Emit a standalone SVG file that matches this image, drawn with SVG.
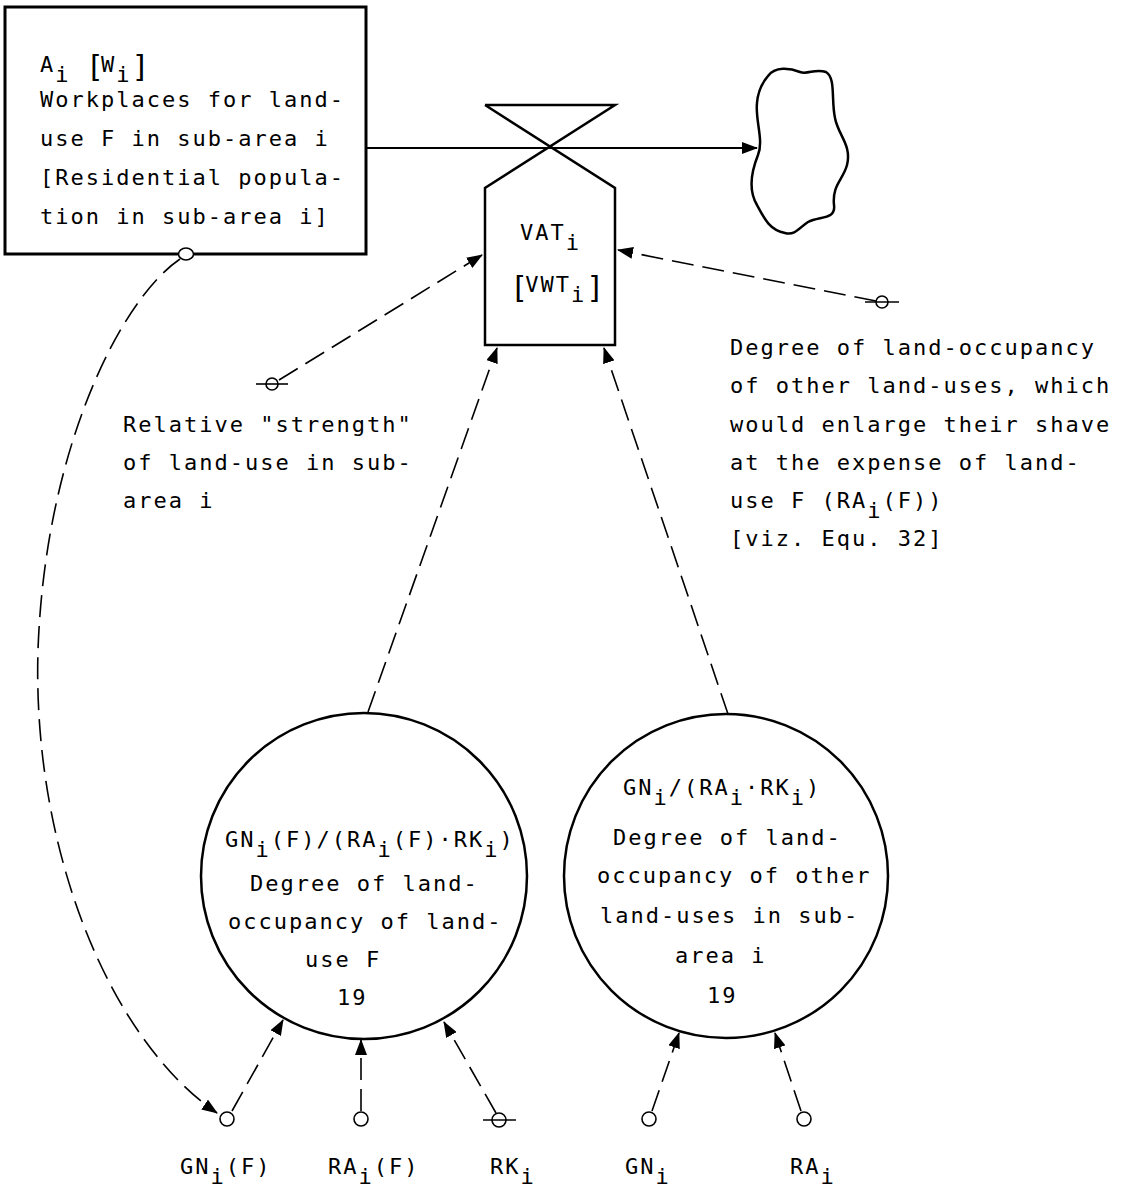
<svg xmlns="http://www.w3.org/2000/svg" width="1123" height="1191" viewBox="0 0 1123 1191">
  <style>
    text { font-family: "DejaVu Sans Mono", "Liberation Mono", monospace; font-size: 22px; letter-spacing: 2px; fill: #000; white-space: pre; }
    .br { font-size: 30px; letter-spacing: -2.8px; font-weight: 300; }
    .solid { fill: none; stroke: #000; stroke-width: 2.5; }
    .flow { fill: none; stroke: #000; stroke-width: 2; }
    .dash { fill: none; stroke: #000; stroke-width: 1.6; stroke-dasharray: 22 9; }
    .src { fill: #fff; stroke: #000; stroke-width: 1.6; }
    .bar { stroke: #000; stroke-width: 1.6; }
  </style>
  <defs>
    <marker id="arrow" markerUnits="userSpaceOnUse" markerWidth="16" markerHeight="12" refX="15" refY="6" orient="auto">
      <path d="M0,0 L16,6 L0,12 Z" fill="#000" stroke="none"/>
    </marker>
  </defs>
  <rect width="1123" height="1191" fill="#fff"/>

  <!-- connectors -->
  <g id="connectors">
    <!-- material flow from the level through the rate to the sink -->
    <line class="flow" x1="366" y1="148" x2="757" y2="148" marker-end="url(#arrow)"/>
    <!-- information links into the rate -->
    <path class="dash" d="M368,712 L497,348" marker-end="url(#arrow)"/>
    <path class="dash" d="M728,714 L604,348" marker-end="url(#arrow)"/>
    <path class="dash" d="M279,380 L482,255" marker-end="url(#arrow)"/>
    <path class="dash" d="M876,301 L618,250" marker-end="url(#arrow)"/>
    <!-- link from the level down to GN_i(F) -->
    <path class="dash" d="M180,259 C120,300 45,450 38,650 C32,850 110,1040 217,1113" marker-end="url(#arrow)"/>
    <!-- inputs into the auxiliaries -->
    <path class="dash" d="M232,1111 L283,1020" marker-end="url(#arrow)"/>
    <path class="dash" d="M361,1111 L361,1040" marker-end="url(#arrow)"/>
    <path class="dash" d="M496,1113 L444,1022" marker-end="url(#arrow)"/>
    <path class="dash" d="M652,1111 L679,1033" marker-end="url(#arrow)"/>
    <path class="dash" d="M801,1111 L775,1033" marker-end="url(#arrow)"/>
  </g>

  <!-- level -->
  <g id="level-A">
    <rect x="5" y="7" width="361" height="247" fill="none" stroke="#000" stroke-width="3"/>
    <text x="40" y="72">A<tspan dy="10">i</tspan><tspan dy="-10"> </tspan><tspan class="br" dy="5">[</tspan><tspan dy="-5">W</tspan><tspan dy="10">i</tspan><tspan class="br" dy="-5">]</tspan></text>
    <text x="40" y="107">Workplaces for land-</text>
    <text x="40" y="146">use F in sub-area i</text>
    <text x="40" y="185">[Residential popula-</text>
    <text x="40" y="224">tion in sub-area i]</text>
    <ellipse class="src" cx="186" cy="254" rx="7.5" ry="6"/>
  </g>

  <!-- rate (valve) -->
  <g id="rate-VAT">
    <path class="solid" d="M485,105 L615,105 L485,188 L485,345 L615,345 L615,188 L485,105"/>
    <text x="520" y="240">VAT<tspan dy="10">i</tspan></text>
    <text x="510" y="292"><tspan class="br" dy="6">[</tspan><tspan dy="-6">VWT</tspan><tspan dy="10">i</tspan><tspan class="br" dy="-4">]</tspan></text>
  </g>

  <!-- sink -->
  <g id="sink">
    <path class="solid" d="M768,76 C775,66 790,68 800,72 C808,75 815,68 826,72 C836,78 831,100 835,118 C838,135 852,145 847,165 C843,180 832,185 834,205 C836,220 820,216 808,222 C800,227 795,236 785,233 C770,230 765,220 757,205 C748,190 752,170 758,155 C764,140 755,120 757,103 C758,90 762,83 768,76 Z"/>
  </g>

  <!-- constant: relative strength -->
  <g id="const-strength">
    <circle class="src" cx="272" cy="384" r="6"/>
    <line class="bar" x1="256" y1="384" x2="288" y2="384"/>
    <text x="123" y="432">Relative "strength"</text>
    <text x="123" y="470">of land-use in sub-</text>
    <text x="123" y="508">area i</text>
  </g>

  <!-- constant: occupancy of other land-uses -->
  <g id="const-occupancy">
    <circle class="src" cx="882" cy="302" r="6"/>
    <line class="bar" x1="865" y1="302" x2="899" y2="302"/>
    <text x="730" y="355">Degree of land-occupancy</text>
    <text x="730" y="393">of other land-uses, which</text>
    <text x="730" y="432">would enlarge their shave</text>
    <text x="730" y="470">at the expense of land-</text>
    <text x="730" y="508">use F (RA<tspan dy="10">i</tspan><tspan dy="-10">(F))</tspan></text>
    <text x="730" y="546">[viz. Equ. 32]</text>
  </g>

  <!-- auxiliary: occupancy of land-use F -->
  <g id="aux-occupancy-F">
    <circle class="solid" cx="364" cy="876" r="163"/>
    <text x="225" y="847">GN<tspan dy="10">i</tspan><tspan dy="-10">(F)/(RA</tspan><tspan dy="10">i</tspan><tspan dy="-10">(F)·RK</tspan><tspan dy="10">i</tspan><tspan dy="-10">)</tspan></text>
    <text x="250" y="891">Degree of land-</text>
    <text x="228" y="929">occupancy of land-</text>
    <text x="305" y="967">use F</text>
    <text x="337" y="1005">19</text>
  </g>

  <!-- auxiliary: occupancy of other land-uses -->
  <g id="aux-occupancy-other">
    <circle class="solid" cx="726" cy="876" r="162"/>
    <text x="623" y="795">GN<tspan dy="10">i</tspan><tspan dy="-10">/(RA</tspan><tspan dy="10">i</tspan><tspan dy="-10">·RK</tspan><tspan dy="10">i</tspan><tspan dy="-10">)</tspan></text>
    <text x="613" y="845">Degree of land-</text>
    <text x="597" y="883">occupancy of other</text>
    <text x="600" y="923">land-uses in sub-</text>
    <text x="675" y="963">area i</text>
    <text x="707" y="1003">19</text>
  </g>

  <!-- inputs -->
  <g id="input-GNF">
    <circle class="src" cx="227" cy="1119" r="7"/>
    <text x="180" y="1174">GN<tspan dy="10">i</tspan><tspan dy="-10">(F)</tspan></text>
  </g>
  <g id="input-RAF">
    <circle class="src" cx="361" cy="1119" r="7"/>
    <text x="328" y="1174">RA<tspan dy="10">i</tspan><tspan dy="-10">(F)</tspan></text>
  </g>
  <g id="input-RK">
    <circle class="src" cx="499" cy="1120" r="7"/>
    <line class="bar" x1="483" y1="1120" x2="516" y2="1120"/>
    <text x="490" y="1174">RK<tspan dy="10">i</tspan></text>
  </g>
  <g id="input-GN">
    <circle class="src" cx="649" cy="1119" r="7"/>
    <text x="625" y="1174">GN<tspan dy="10">i</tspan></text>
  </g>
  <g id="input-RA">
    <circle class="src" cx="804" cy="1119" r="7"/>
    <text x="790" y="1174">RA<tspan dy="10">i</tspan></text>
  </g>
</svg>
